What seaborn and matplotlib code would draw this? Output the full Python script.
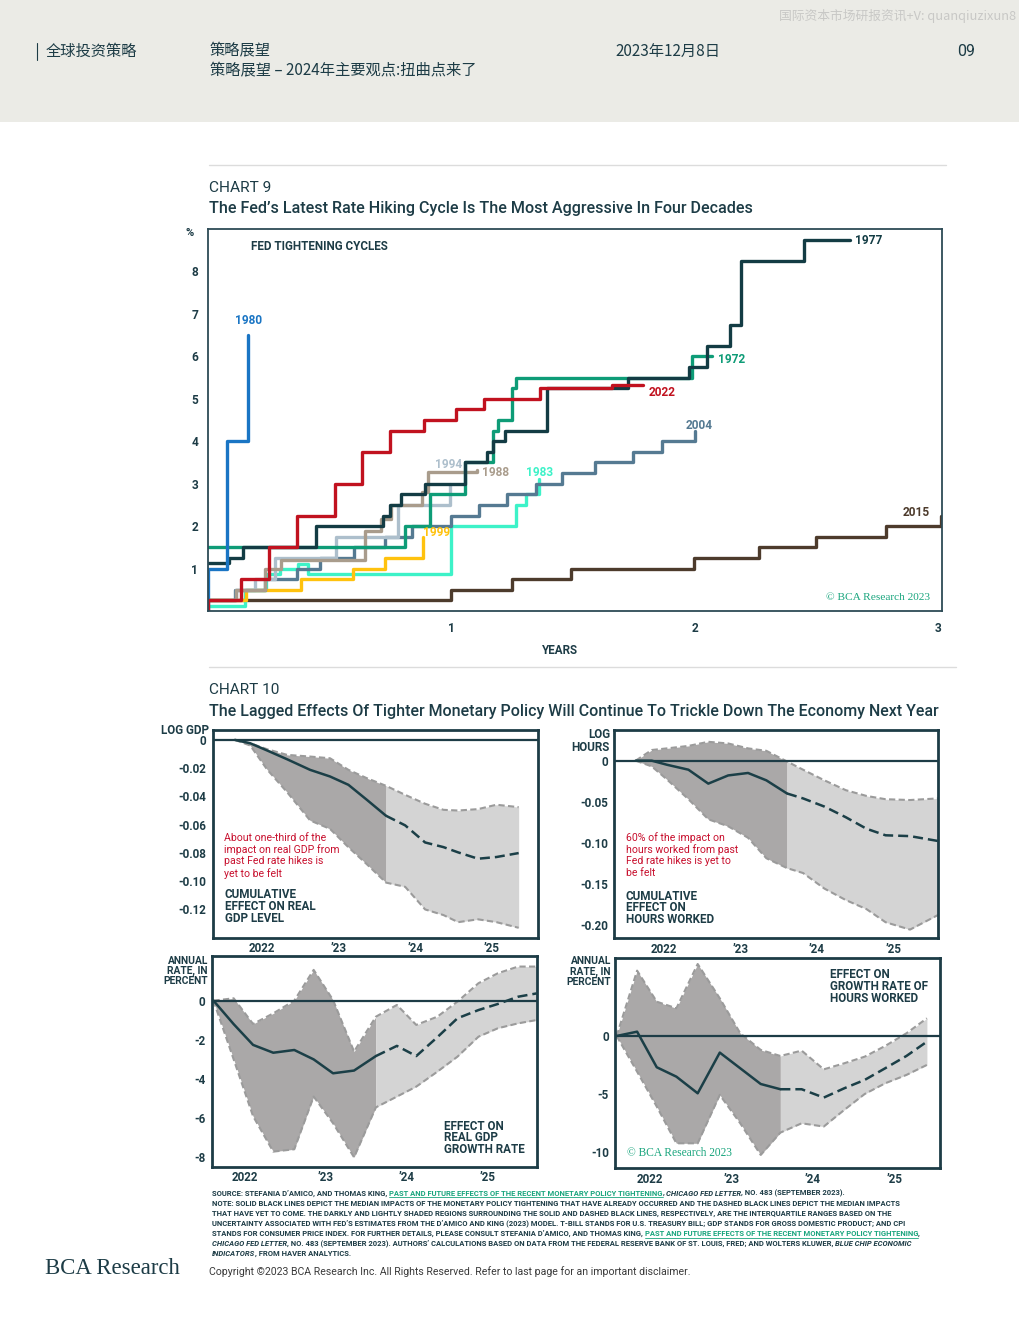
import matplotlib
matplotlib.use("Agg")
import matplotlib.pyplot as plt
import seaborn as sns
from matplotlib.patches import Rectangle
from matplotlib.lines import Line2D

W, H = 1020, 1320
INK = "#1d3c46"
GREEN_MARK = "#19a57d"
RED_NOTE = "#c8102e"

# ---- CHART 9: years since first hike vs cumulative change in fed funds (%)
x_1980 = [0, 0, 0.079, 0.164]
y_1980 = [0.0, 1.0, 4.0, 6.5]
x_1977 = [0, 0.087, 0.144, 0.445, 0.719, 0.746, 0.794, 0.89, 1.055, 1.144, 1.171,
          1.219, 1.394, 1.727, 1.977, 2.049, 2.145, 2.19, 2.45, 2.637]
y_1977 = [1.125, 1.25, 1.5, 2.0, 2.25, 2.5, 2.75, 3.0, 3.5, 3.75, 4.0,
          4.25, 5.25, 5.5, 5.75, 6.25, 6.75, 8.25, 8.75, 8.75]
x_1972 = [0, 0.808, 0.911, 1.055, 1.171, 1.192, 1.247, 1.267, 1.99, 2.07]
y_1972 = [1.5, 2.0, 2.75, 3.5, 4.25, 4.5, 5.25, 5.5, 6.0, 6.0]
x_2022 = [0, 0, 0.134, 0.249, 0.367, 0.52, 0.634, 0.749, 0.886, 1.02, 1.133, 1.363, 1.66, 1.787]
y_2022 = [0.0, 0.25, 0.75, 1.5, 2.25, 3.0, 3.75, 4.25, 4.5, 4.75, 5.0, 5.25, 5.33, 5.33]
x_2004 = [0, 0.11, 0.233, 0.366, 0.462, 0.599, 0.729, 0.838, 1.0, 1.112, 1.229,
          1.346, 1.455, 1.589, 1.744, 1.863, 2.0]
y_2004 = [0.25, 0.5, 0.75, 1.0, 1.25, 1.5, 1.75, 2.0, 2.25, 2.5, 2.75,
          3.0, 3.25, 3.5, 3.75, 4.0, 4.25]
x_1994 = [0, 0.117, 0.193, 0.274, 0.527, 0.78, 0.993]
y_1994 = [0.25, 0.5, 0.75, 1.25, 1.75, 2.5, 3.0]
x_1988 = [0, 0.117, 0.233, 0.3, 0.644, 0.712, 0.753, 0.877, 0.904, 1.103]
y_1988 = [0.25, 0.5, 1.0, 1.2, 1.875, 2.17, 2.5, 2.8, 3.27, 3.33]
x_1983 = [0, 0.151, 0.24, 0.295, 0.37, 0.41, 1.0, 1.267, 1.308, 1.36]
y_1983 = [0.125, 0.5, 0.875, 1.0, 1.1, 0.875, 2.0, 2.5, 2.75, 3.1]
x_1999 = [0, 0.155, 0.384, 0.596, 0.729, 0.884]
y_1999 = [0.25, 0.5, 0.75, 1.0, 1.25, 1.75]
x_2015 = [0, 1.0, 1.249, 1.493, 1.995, 2.264, 2.497, 2.783, 3.012]
y_2015 = [0.25, 0.5, 0.75, 1.0, 1.25, 1.5, 1.75, 2.0, 2.25]

# ---- CHART 10 panels (decimal years); index 8 is the split between realised / yet to come
gdp_x = [2021.65, 2021.85, 2022.07, 2022.33, 2022.63, 2022.89, 2023.13, 2023.37, 2023.62,
         2023.87, 2024.13, 2024.37, 2024.56, 2024.82, 2025.06, 2025.35]
gdp_med = [0, -0.0024, -0.0075, -0.0137, -0.0212, -0.0259, -0.0318, -0.0424, -0.0537,
           -0.0605, -0.0726, -0.0759, -0.0796, -0.0841, -0.0829, -0.0801]
gdp_hi = [0, -0.0024, -0.0066, -0.0106, -0.0118, -0.013, -0.0212, -0.0271, -0.0325,
          -0.0389, -0.0452, -0.0495, -0.05, -0.049, -0.0459, -0.0476]
gdp_lo = [0, -0.004, -0.021, -0.037, -0.057, -0.063, -0.076, -0.088, -0.101,
          -0.104, -0.120, -0.124, -0.129, -0.127, -0.129, -0.133]

hrs_x = [2021.63, 2021.84, 2022.04, 2022.32, 2022.58, 2022.84, 2023.10, 2023.34, 2023.61,
         2023.82, 2024.10, 2024.38, 2024.65, 2024.90, 2025.22, 2025.59]
hrs_med = [0, 0, -0.005, -0.011, -0.028, -0.018, -0.015, -0.024, -0.040,
           -0.046, -0.056, -0.069, -0.083, -0.091, -0.092, -0.098]
hrs_hi = [0, 0.013, 0.015, 0.018, 0.023, 0.021, 0.015, 0.012, -0.001,
          -0.011, -0.024, -0.036, -0.043, -0.047, -0.048, -0.046]
hrs_lo = [0, -0.007, -0.023, -0.047, -0.0715, -0.080, -0.094, -0.119, -0.131,
          -0.137, -0.156, -0.170, -0.181, -0.197, -0.206, -0.188]

gdpg_x = [2021.61, 2021.86, 2022.10, 2022.35, 2022.61, 2022.85, 2023.09, 2023.35, 2023.62,
          2023.88, 2024.12, 2024.38, 2024.63, 2024.89, 2025.13, 2025.38, 2025.61]
gdpg_med = [0, -1.2, -2.26, -2.66, -2.52, -3.0, -3.71, -3.57, -2.83,
            -2.31, -2.83, -1.87, -0.9, -0.48, -0.17, 0.2, 0.37]
gdpg_hi = [0, 0.12, -1.19, -0.65, 0.0, 1.57, 0.03, -2.6, -0.82,
           -0.22, -1.24, -0.82, -0.05, 0.89, 1.4, 1.74, 1.74]
gdpg_lo = [0, -3.0, -5.9, -7.71, -7.59, -4.9, -6.26, -8.0, -5.45,
           -4.9, -4.39, -3.63, -2.86, -1.84, -1.41, -1.16, -0.99]

hrsg_x = [2021.60, 2021.85, 2022.09, 2022.33, 2022.59, 2022.86, 2023.11, 2023.36, 2023.60,
          2023.86, 2024.13, 2024.38, 2024.63, 2024.88, 2025.14, 2025.39]
hrsg_med = [0, 0.37, -2.69, -3.5, -4.93, -1.43, -2.78, -4.13, -4.58,
            -4.58, -5.3, -4.5, -3.78, -2.78, -1.72, -0.49]
hrsg_hi = [0, 5.62, 2.95, 2.38, 6.19, 3.24, 0.23, -1.2, -1.72,
           -1.26, -2.87, -2.35, -1.78, -0.86, 0.23, 1.52]
hrsg_lo = [0, -3.07, -6.07, -9.23, -9.23, -5.07, -7.51, -10.23, -8.31,
           -7.51, -7.79, -6.36, -4.99, -4.07, -3.35, -2.49]

year_ticks = [2022, 2023, 2024, 2025]
year_labels = ["2022", "\u201923", "\u201924", "\u201925"]

sns.set_theme(style="white")
plt.rcParams["font.family"] = ["Roboto", "Lato", "Noto Sans CJK SC", "DejaVu Sans"]
CJK = ["Noto Sans CJK SC", "DejaVu Sans"]
SERIF = ["Liberation Serif", "DejaVu Serif"]

fig = plt.figure(figsize=(W / 100, H / 100), dpi=100)
fig.patch.set_facecolor("white")
renderer = fig.canvas.get_renderer()


def rect(l, t, r, b):
    return [l / W, 1 - b / H, (r - l) / W, (b - t) / H]


def txt(px, py, s, **kw):
    kw.setdefault("va", "center")
    kw.setdefault("color", INK)
    return fig.text(px / W, 1 - py / H, s, **kw)


def fit(px, py, s, width, **kw):
    t = txt(px, py, s, fontsize=10, **kw)
    w = t.get_window_extent(renderer).width
    t.set_fontsize(10 * width / w)
    return t


def hline(x0, x1, py, color="#dcdcdc", lw=1.0):
    fig.add_artist(Line2D([x0 / W, x1 / W], [1 - py / H] * 2, color=color, lw=lw))


def rows(px, py0, dy, items, **kw):
    for i, s in enumerate(items):
        txt(px, py0 + i * dy, s, **kw)


def width_of(s, **kw):
    a = fig.text(0, 0, s + "|", **kw)
    b = fig.text(0, 0, "|", **kw)
    w = a.get_window_extent(renderer).width - b.get_window_extent(renderer).width
    a.remove()
    b.remove()
    return w


# ---------------- header band
fig.add_artist(Rectangle((0, 1 - 122 / H), 1, 122 / H, transform=fig.transFigure,
                         facecolor="#ebebe6", edgecolor="none", zorder=0))
fit(779, 16, "国际资本市场研报资讯+V: quanqiuzixun8", 237, family=CJK, color="#c8c8c6")
fig.add_artist(Line2D([37 / W] * 2, [1 - 43 / H, 1 - 60 / H], color=INK, lw=0.8))
txt(46, 51, "全球投资策略", family=CJK, fontsize=11)
txt(210, 51, "策略展望", family=CJK, fontsize=11)
txt(210, 71, "策略展望 – 2024年主要观点:扭曲点来了", family=CJK, fontsize=11)
txt(615, 51, "2023年12月8日", family=CJK, fontsize=11)
txt(957, 52, "09", fontsize=11.5)

# ---------------- chart 9
hline(209, 946, 165)
fit(209, 188, "CHART 9", 62)
fit(209, 208, "The Fed\u2019s Latest Rate Hiking Cycle Is The Most Aggressive In Four Decades",
    543, fontweight="medium")

ax9 = fig.add_axes(rect(208, 229, 942, 611))
cycles = [
    (x_2015, y_2015, "#4d3b2c"),
    (x_1983, y_1983, "#3df2c8"),
    (x_1999, y_1999, "#ffc20e"),
    (x_2004, y_2004, "#557a92"),
    (x_1994, y_1994, "#adbfcc"),
    (x_1988, y_1988, "#a99c8c"),
    (x_1972, y_1972, "#0e9c77"),
    (x_1977, y_1977, "#133c44"),
    (x_1980, y_1980, "#1a75c4"),
    (x_2022, y_2022, "#c1121f"),
]
for xs, ys, col in cycles:
    sns.lineplot(x=xs, y=ys, ax=ax9, color=col, linewidth=2.4, drawstyle="steps-post",
                 sort=False, estimator=None, legend=False)

ax9.set_xlim(0, 3.015)
ax9.set_ylim(0, 9.0)
ax9.set_xticks([1, 2, 3], ["1", "2", "3"], fontweight="bold")
ax9.set_yticks(range(1, 9), [str(v) for v in range(1, 9)], fontweight="bold")
ax9.tick_params(axis="both", direction="in", length=4, width=1, colors=INK, labelsize=8.6)
ax9.tick_params(axis="y", pad=7)
ax9.tick_params(axis="x", pad=8, length=5)
for sp in ax9.spines.values():
    sp.set_color("#2d4b56")
    sp.set_linewidth(1.3)
ax9.set_xlabel("")
ax9.set_ylabel("")

labels9 = [
    ("1980", 0.167, 6.85, "#1a75c4"),
    ("1977", 2.714, 8.74, "#133c44"),
    ("1972", 2.15, 5.93, "#0e9c77"),
    ("2022", 1.864, 5.15, "#c1121f"),
    ("2004", 2.016, 4.36, "#557a92"),
    ("1994", 0.989, 3.46, "#adbfcc"),
    ("1988", 1.182, 3.27, "#a99c8c"),
    ("1983", 1.363, 3.27, "#3df2c8"),
    ("1999", 0.94, 1.85, "#ffc20e"),
    ("2015", 2.907, 2.32, "#4d3b2c"),
]
for s, lx, ly, col in labels9:
    ax9.text(lx, ly, s, color=col, fontsize=8.6, fontweight="bold", ha="center", va="center")
ax9.text(0.058, 0.955, "FED TIGHTENING CYCLES", transform=ax9.transAxes, fontsize=8.4,
         fontweight="bold", color=INK, va="center")
txt(190, 233, "%", fontsize=8, fontweight="bold", ha="center")
txt(560, 651, "YEARS", fontsize=8.4, fontweight="bold", ha="center")
fit(826, 597, "\u00a9 BCA Research 2023", 105, family=SERIF, color=GREEN_MARK)

# ---------------- chart 10
hline(209, 956, 667)
fit(209, 690, "CHART 10", 70)
fit(209, 711, "The Lagged Effects Of Tighter Monetary Policy Will Continue To Trickle Down "
              "The Economy Next Year", 730, fontweight="medium")

DARK_BAND = "#aaa8a8"
LIGHT_BAND = "#d4d4d4"
EDGE = "#9b9b9b"
MED = "#1b3f47"


def panel(box, xs, med, lo, hi, xlim, ylim, yticks, ylabels, k=8):
    ax = fig.add_axes(rect(*box))
    ax.fill_between(xs[:k + 1], lo[:k + 1], hi[:k + 1], color=DARK_BAND, lw=0, zorder=1)
    ax.fill_between(xs[k:], lo[k:], hi[k:], color=LIGHT_BAND, lw=0, zorder=1)
    for band in (hi, lo):
        sns.lineplot(x=xs, y=band, ax=ax, color=EDGE, linewidth=1.5,
                     linestyle=(0, (3, 1.6)), sort=False, estimator=None, zorder=2)
    ax.axhline(0, color=INK, lw=1.6, zorder=3)
    sns.lineplot(x=xs[:k + 1], y=med[:k + 1], ax=ax, color=MED, linewidth=1.8,
                 sort=False, estimator=None, zorder=4)
    sns.lineplot(x=xs[k:], y=med[k:], ax=ax, color=MED, linewidth=1.8,
                 linestyle=(0, (4, 2)), sort=False, estimator=None, zorder=4)
    ax.set_xlim(*xlim)
    ax.set_ylim(*ylim)
    ax.set_xticks(year_ticks, year_labels, fontweight="bold")
    ax.set_yticks(yticks, ylabels, fontweight="bold")
    ax.tick_params(axis="y", direction="out", length=3.2, width=1.2, pad=1.2,
                   colors=INK, labelsize=8.4)
    ax.tick_params(axis="x", direction="in", length=4, width=1.2, pad=3.2,
                   colors=INK, labelsize=8.4)
    for sp in ax.spines.values():
        sp.set_color(INK)
        sp.set_linewidth(2.0)
    ax.set_xlabel("")
    ax.set_ylabel("")
    ax.set_facecolor("white")
    return ax


panel((212.7, 730, 538.3, 937.7), gdp_x, gdp_med, gdp_lo, gdp_hi,
      (2021.36, 2025.606), (-0.14, 0.007),
      [0, -0.02, -0.04, -0.06, -0.08, -0.10, -0.12],
      ["0", "-0.02", "-0.04", "-0.06", "-0.08", "-0.10", "-0.12"])
panel((614.3, 730, 938.3, 938.3), hrs_x, hrs_med, hrs_lo, hrs_hi,
      (2021.35, 2025.59), (-0.2166, 0.0374),
      [0, -0.05, -0.10, -0.15, -0.20], ["0", "-0.05", "-0.10", "-0.15", "-0.20"])
panel((211.7, 956, 537.3, 1166.7), gdpg_x, gdpg_med, gdpg_lo, gdpg_hi,
      (2021.588, 2025.618), (-8.48, 2.28),
      [0, -2, -4, -6, -8], ["0", "-2", "-4", "-6", "-8"])
panel((615, 958.3, 940, 1168.3), hrsg_x, hrsg_med, hrsg_lo, hrsg_hi,
      (2021.58, 2025.55), (-11.38, 6.68),
      [0, -5, -10], ["0", "-5", "-10"])

lab = dict(fontsize=8.4, fontweight="bold")
note = dict(fontsize=7.6, color=RED_NOTE)
axl = dict(fontsize=8.4, fontweight="bold", ha="right")
axl_small = dict(fontsize=7.4, fontweight="bold", ha="right")

txt(209, 731, "LOG GDP", **axl)
rows(224, 838, 11.7, ["About one-third of the", "impact on real GDP from",
                      "past Fed rate hikes is", "yet to be felt"], **note)
rows(225, 895, 11.6, ["CUMULATIVE", "EFFECT ON REAL", "GDP LEVEL"], **lab)

rows(610, 734, 13.5, ["LOG", "HOURS"], **axl)
rows(626, 838, 11.7, ["60% of the impact on", "hours worked from past",
                      "Fed rate hikes is yet to", "be felt"], **note)
rows(626, 896, 11.6, ["CUMULATIVE", "EFFECT ON", "HOURS WORKED"], **lab)

rows(208, 960.5, 10.4, ["ANNUAL", "RATE, IN", "PERCENT"], **axl_small)
rows(444, 1126, 11.6, ["EFFECT ON", "REAL GDP", "GROWTH RATE"], **lab)

rows(611, 961.5, 10.4, ["ANNUAL", "RATE, IN", "PERCENT"], **axl_small)
rows(830, 975, 11.6, ["EFFECT ON", "GROWTH RATE OF", "HOURS WORKED"], **lab)
fit(627, 1153, "\u00a9 BCA Research 2023", 106, family=SERIF, color=GREEN_MARK)

# ---------------- footnotes
LINK = "PAST AND FUTURE EFFECTS OF THE RECENT MONETARY POLICY TIGHTENING"
foot = [
    [("SOURCE: STEFANIA D\u2019AMICO, AND THOMAS KING, ", "n"), (LINK, "link"), (", ", "n"),
     ("CHICAGO FED LETTER", "it"), (", NO. 483 (SEPTEMBER 2023).", "n")],
    [("NOTE: SOLID BLACK LINES DEPICT THE MEDIAN IMPACTS OF THE MONETARY POLICY TIGHTENING "
      "THAT HAVE ALREADY OCCURRED AND THE DASHED BLACK LINES DEPICT THE MEDIAN IMPACTS", "n")],
    [("THAT HAVE YET TO COME. THE DARKLY AND LIGHTLY SHADED REGIONS SURROUNDING THE SOLID AND "
      "DASHED BLACK LINES, RESPECTIVELY, ARE THE INTERQUARTILE RANGES BASED ON THE", "n")],
    [("UNCERTAINTY ASSOCIATED WITH FED\u2019S ESTIMATES FROM THE D\u2019AMICO AND KING (2023) MODEL. "
      "T-BILL STANDS FOR U.S. TREASURY BILL; GDP STANDS FOR GROSS DOMESTIC PRODUCT; AND CPI", "n")],
    [("STANDS FOR CONSUMER PRICE INDEX. FOR FURTHER DETAILS, PLEASE CONSULT STEFANIA D\u2019AMICO, "
      "AND THOMAS KING, ", "n"), (LINK, "link"), (",", "n")],
    [("CHICAGO FED LETTER", "it"), (", NO. 483 (SEPTEMBER 2023). AUTHORS\u2019 CALCULATIONS BASED ON "
      "DATA FROM THE FEDERAL RESERVE BANK OF ST. LOUIS, FRED; AND WOLTERS KLUWER, ", "n"),
     ("BLUE CHIP ECONOMIC", "it")],
    [("INDICATORS", "it"), (", FROM HAVER ANALYTICS.", "n")],
]
styles = {
    "n": dict(color=INK, fontweight="bold"),
    "link": dict(color=GREEN_MARK, fontweight="bold"),
    "it": dict(color=INK, fontweight="bold", fontstyle="italic"),
}
base = width_of(foot[1][0][0], fontsize=10, **styles["n"])
fsize = 10 * 697 / base
for i, line in enumerate(foot):
    py = 1193 + i * 10.1
    px = 212.0
    for s, kind in line:
        txt(px, py, s, fontsize=fsize, **styles[kind])
        w = width_of(s, fontsize=fsize, **styles[kind])
        if kind == "link":
            hline(px, px + w, py + 4.2, color=GREEN_MARK, lw=0.6)
        px += w

fit(209, 1272, "Copyright \u00a92023 BCA Research Inc. All Rights Reserved. Refer to last page "
               "for an important disclaimer.", 480, color="#3a3a3a")
fit(45, 1268, "BCA Research", 135, family=SERIF, color=INK)

fig.savefig("out.png", dpi=100, facecolor="white")
